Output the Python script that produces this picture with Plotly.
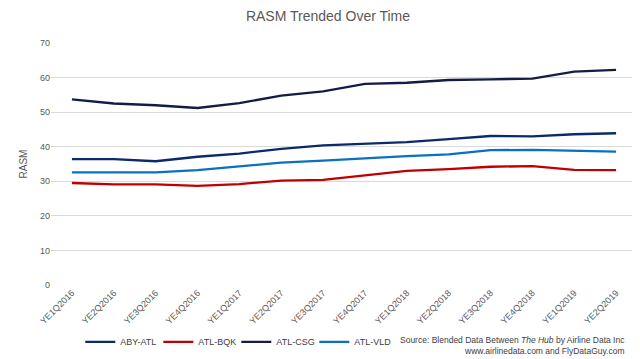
import plotly.graph_objects as go

quarters = ["YE1Q2016", "YE2Q2016", "YE3Q2016", "YE4Q2016", "YE1Q2017", "YE2Q2017", "YE3Q2017",
            "YE4Q2017", "YE1Q2018", "YE2Q2018", "YE3Q2018", "YE4Q2018", "YE1Q2019", "YE2Q2019"]
aby_atl = [36.4, 36.4, 35.8, 37.1, 38.0, 39.4, 40.4, 40.8, 41.3, 42.2, 43.1, 43.0, 43.6, 43.9]
atl_bqk = [29.5, 29.1, 29.1, 28.7, 29.2, 30.2, 30.4, 31.7, 33.0, 33.5, 34.2, 34.4, 33.3, 33.2]
atl_csg = [53.7, 52.5, 52.0, 51.2, 52.6, 54.8, 56.0, 58.2, 58.5, 59.3, 59.5, 59.7, 61.7, 62.2]
atl_vld = [32.6, 32.7, 32.6, 33.2, 34.3, 35.4, 36.0, 36.7, 37.3, 37.8, 39.0, 39.1, 38.8, 38.6]
y_ticks = [0, 10, 20, 30, 40, 50, 60, 70]

series = [("ABY-ATL", aby_atl, "#0b2a6b"),
          ("ATL-BQK", atl_bqk, "#c00000"),
          ("ATL-CSG", atl_csg, "#141c45"),
          ("ATL-VLD", atl_vld, "#0a70c0")]

fig = go.Figure()
for name, vals, color in series:
    fig.add_trace(go.Scatter(x=quarters, y=vals, mode="lines", name=name,
                             line=dict(color=color, width=2.3)))

fig.update_layout(
    width=640, height=359,
    margin=dict(l=43, r=11, t=35, b=70),
    paper_bgcolor="white", plot_bgcolor="white",
    font=dict(family="Liberation Sans, Arial", color="#595959", size=9),
    title=dict(text="RASM Trended Over Time", x=0.5, xanchor="center", y=0.978, yanchor="middle",
               font=dict(size=14, color="#595959")),
    xaxis=dict(tickangle=-45, showgrid=False, showline=False, ticks="",
               tickfont=dict(size=9, color="#595959"), range=[-0.5, 13.5]),
    yaxis=dict(range=[0, 70], tickvals=y_ticks, showgrid=True, gridcolor="#d9d9d9", gridwidth=1,
               zeroline=False, showline=False, ticks="", tickfont=dict(size=9, color="#595959"),
               title=dict(text="RASM", font=dict(size=10, color="#595959"), standoff=10)),
    legend=dict(orientation="h", x=0.05, xanchor="left", y=-0.235, yanchor="middle",
                font=dict(size=9, color="#404040"), itemwidth=30, tracegroupgap=0,
                entrywidth=33, entrywidthmode="pixels"),
    showlegend=True,
)

fig.add_annotation(text="Source: Blended Data Between <i>The Hub</i> by Airline Data Inc",
                   xref="paper", yref="paper", x=1.0, xshift=-10, y=-0.228, xanchor="right", yanchor="middle",
                   align="right", showarrow=False, font=dict(size=8.5, color="#404040"))
fig.add_annotation(text="www.airlinedata.com and FlyDataGuy.com",
                   xref="paper", yref="paper", x=1.0, xshift=-10, y=-0.272, xanchor="right", yanchor="middle",
                   align="right", showarrow=False, font=dict(size=8.5, color="#404040"))

fig.write_html("out.html")
